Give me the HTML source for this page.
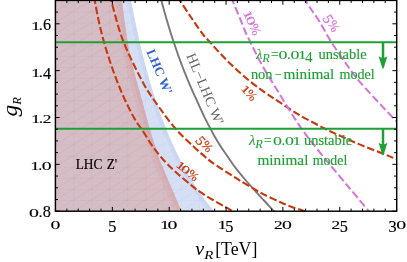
<!DOCTYPE html>
<html><head><meta charset="utf-8"><style>
html,body{margin:0;padding:0;background:#fff;}
svg{display:block;font-family:"Liberation Serif",serif;will-change:transform;}
</style></head><body>
<svg width="407" height="262" viewBox="0 0 407 262">
<defs>
<clipPath id="c"><rect x="55.4" y="0.4" width="341.3" height="210.79999999999998"/></clipPath>
<linearGradient id="pg" gradientUnits="userSpaceOnUse" x1="56" y1="0" x2="185" y2="0">
<stop offset="0" stop-color="#D5BEC7"/><stop offset="1" stop-color="#D6BDC4"/></linearGradient>
<pattern id="mp" patternUnits="userSpaceOnUse" x="55.4" y="0.4" width="17.963" height="11.095">
<path d="M0,0V11.095M0,0H17.963M0,11.095L17.963,0" stroke="#C0504A" stroke-opacity="0.19" stroke-width="0.55" fill="none"/>
</pattern>
<pattern id="mp2" patternUnits="userSpaceOnUse" x="55.4" y="0.4" width="17.963" height="11.095">
<path d="M0,0L17.963,11.095" stroke="#6A78D8" stroke-opacity="0.10" stroke-width="0.55" fill="none"/>
</pattern>
<clipPath id="cpink"><path d="M121.0,-3.0 C121.1,-2.5 120.7,-7.2 121.8,0.0 C122.9,7.2 125.8,30.0 127.4,40.0 C129.0,50.0 130.0,53.3 131.5,60.0 C133.0,66.7 134.7,73.3 136.4,80.0 C138.2,86.7 139.9,92.3 142.0,100.0 C144.1,107.7 146.7,118.0 149.0,126.0 C151.3,134.0 153.6,141.3 155.8,148.0 C158.0,154.7 158.0,155.5 162.3,166.0 C166.6,176.5 178.2,203.1 181.6,211.0 C185.0,218.9 182.4,213.1 182.6,213.5 L50.0,213.5 L50.0,-3.0 Z"/></clipPath>
<clipPath id="cblue"><path d="M130.6,-2.0 C130.9,-0.8 131.6,3.0 132.0,5.4 C132.5,7.9 133.0,10.4 133.5,12.9 C134.0,15.4 134.5,17.9 135.0,20.3 C135.5,22.8 136.0,25.3 136.5,27.8 C137.1,30.3 137.6,32.8 138.1,35.2 C138.7,37.7 139.3,40.2 139.8,42.7 C140.4,45.2 141.0,47.7 141.6,50.1 C142.2,52.6 142.8,55.1 143.4,57.6 C144.1,60.1 144.7,62.6 145.4,65.0 C146.0,67.5 146.7,70.0 147.4,72.5 C148.1,75.0 148.8,77.4 149.5,79.9 C150.2,82.4 150.9,84.9 151.7,87.4 C152.4,89.9 153.2,92.3 154.0,94.8 C154.8,97.3 155.6,99.8 156.4,102.3 C157.2,104.8 158.1,107.2 159.0,109.7 C159.8,112.2 160.7,114.7 161.7,117.2 C162.6,119.7 163.5,122.1 164.5,124.6 C165.5,127.1 166.5,129.6 167.5,132.1 C168.5,134.6 169.6,137.0 170.6,139.5 C171.7,142.0 172.8,144.5 174.0,147.0 C175.1,149.4 176.3,151.9 177.6,154.4 C178.8,156.9 180.0,159.4 181.3,161.9 C182.6,164.3 184.0,166.8 185.4,169.3 C186.7,171.8 188.2,174.3 189.7,176.8 C191.1,179.2 192.7,181.7 194.3,184.2 C195.8,186.7 197.5,189.2 199.2,191.7 C200.9,194.1 202.6,196.6 204.5,199.1 C206.3,201.6 208.2,204.1 210.2,206.6 C212.2,209.0 215.3,212.8 216.3,214.0 L50.0,214.0 L50.0,-2.0 Z"/></clipPath>
<clipPath id="cl"><rect x="50" y="-5" width="82" height="225"/></clipPath>
<pattern id="mb" patternUnits="userSpaceOnUse" x="55.4" y="0.4" width="17.963" height="11.095">
<path d="M0,0V11.095M0,0H17.963M0,11.095L17.963,0" stroke="#6A86E0" stroke-opacity="0.16" stroke-width="0.55" fill="none"/>
</pattern>
</defs>
<rect width="407" height="262" fill="#fff"/>
<g clip-path="url(#c)">
<path d="M130.6,-2.0 C130.9,-0.8 131.6,3.0 132.0,5.4 C132.5,7.9 133.0,10.4 133.5,12.9 C134.0,15.4 134.5,17.9 135.0,20.3 C135.5,22.8 136.0,25.3 136.5,27.8 C137.1,30.3 137.6,32.8 138.1,35.2 C138.7,37.7 139.3,40.2 139.8,42.7 C140.4,45.2 141.0,47.7 141.6,50.1 C142.2,52.6 142.8,55.1 143.4,57.6 C144.1,60.1 144.7,62.6 145.4,65.0 C146.0,67.5 146.7,70.0 147.4,72.5 C148.1,75.0 148.8,77.4 149.5,79.9 C150.2,82.4 150.9,84.9 151.7,87.4 C152.4,89.9 153.2,92.3 154.0,94.8 C154.8,97.3 155.6,99.8 156.4,102.3 C157.2,104.8 158.1,107.2 159.0,109.7 C159.8,112.2 160.7,114.7 161.7,117.2 C162.6,119.7 163.5,122.1 164.5,124.6 C165.5,127.1 166.5,129.6 167.5,132.1 C168.5,134.6 169.6,137.0 170.6,139.5 C171.7,142.0 172.8,144.5 174.0,147.0 C175.1,149.4 176.3,151.9 177.6,154.4 C178.8,156.9 180.0,159.4 181.3,161.9 C182.6,164.3 184.0,166.8 185.4,169.3 C186.7,171.8 188.2,174.3 189.7,176.8 C191.1,179.2 192.7,181.7 194.3,184.2 C195.8,186.7 197.5,189.2 199.2,191.7 C200.9,194.1 202.6,196.6 204.5,199.1 C206.3,201.6 208.2,204.1 210.2,206.6 C212.2,209.0 215.3,212.8 216.3,214.0 L50.0,214.0 L50.0,-2.0 Z" fill="#D6E0F5"/>
<path d="M130.6,-2.0 C130.9,-0.8 131.6,3.0 132.0,5.4 C132.5,7.9 133.0,10.4 133.5,12.9 C134.0,15.4 134.5,17.9 135.0,20.3 C135.5,22.8 136.0,25.3 136.5,27.8 C137.1,30.3 137.6,32.8 138.1,35.2 C138.7,37.7 139.3,40.2 139.8,42.7 C140.4,45.2 141.0,47.7 141.6,50.1 C142.2,52.6 142.8,55.1 143.4,57.6 C144.1,60.1 144.7,62.6 145.4,65.0 C146.0,67.5 146.7,70.0 147.4,72.5 C148.1,75.0 148.8,77.4 149.5,79.9 C150.2,82.4 150.9,84.9 151.7,87.4 C152.4,89.9 153.2,92.3 154.0,94.8 C154.8,97.3 155.6,99.8 156.4,102.3 C157.2,104.8 158.1,107.2 159.0,109.7 C159.8,112.2 160.7,114.7 161.7,117.2 C162.6,119.7 163.5,122.1 164.5,124.6 C165.5,127.1 166.5,129.6 167.5,132.1 C168.5,134.6 169.6,137.0 170.6,139.5 C171.7,142.0 172.8,144.5 174.0,147.0 C175.1,149.4 176.3,151.9 177.6,154.4 C178.8,156.9 180.0,159.4 181.3,161.9 C182.6,164.3 184.0,166.8 185.4,169.3 C186.7,171.8 188.2,174.3 189.7,176.8 C191.1,179.2 192.7,181.7 194.3,184.2 C195.8,186.7 197.5,189.2 199.2,191.7 C200.9,194.1 202.6,196.6 204.5,199.1 C206.3,201.6 208.2,204.1 210.2,206.6 C212.2,209.0 215.3,212.8 216.3,214.0 L50.0,214.0 L50.0,-2.0 Z" fill="url(#mb)"/>
<g clip-path="url(#cblue)"><path d="M130.6,-2.0 C130.9,-0.8 131.6,3.0 132.0,5.4 C132.5,7.9 133.0,10.4 133.5,12.9 C134.0,15.4 134.5,17.9 135.0,20.3 C135.5,22.8 136.0,25.3 136.5,27.8 C137.1,30.3 137.6,32.8 138.1,35.2 C138.7,37.7 139.3,40.2 139.8,42.7 C140.4,45.2 141.0,47.7 141.6,50.1 C142.2,52.6 142.8,55.1 143.4,57.6 C144.1,60.1 144.7,62.6 145.4,65.0 C146.0,67.5 146.7,70.0 147.4,72.5 C148.1,75.0 148.8,77.4 149.5,79.9 C150.2,82.4 150.9,84.9 151.7,87.4 C152.4,89.9 153.2,92.3 154.0,94.8 C154.8,97.3 155.6,99.8 156.4,102.3 C157.2,104.8 158.1,107.2 159.0,109.7 C159.8,112.2 160.7,114.7 161.7,117.2 C162.6,119.7 163.5,122.1 164.5,124.6 C165.5,127.1 166.5,129.6 167.5,132.1 C168.5,134.6 169.6,137.0 170.6,139.5 C171.7,142.0 172.8,144.5 174.0,147.0 C175.1,149.4 176.3,151.9 177.6,154.4 C178.8,156.9 180.0,159.4 181.3,161.9 C182.6,164.3 184.0,166.8 185.4,169.3 C186.7,171.8 188.2,174.3 189.7,176.8 C191.1,179.2 192.7,181.7 194.3,184.2 C195.8,186.7 197.5,189.2 199.2,191.7 C200.9,194.1 202.6,196.6 204.5,199.1 C206.3,201.6 208.2,204.1 210.2,206.6 C212.2,209.0 215.3,212.8 216.3,214.0" fill="none" stroke="#7C96E6" stroke-opacity="0.10" stroke-width="8"/></g>
<path d="M121.0,-3.0 C121.1,-2.5 120.7,-7.2 121.8,0.0 C122.9,7.2 125.8,30.0 127.4,40.0 C129.0,50.0 130.0,53.3 131.5,60.0 C133.0,66.7 134.7,73.3 136.4,80.0 C138.2,86.7 139.9,92.3 142.0,100.0 C144.1,107.7 146.7,118.0 149.0,126.0 C151.3,134.0 153.6,141.3 155.8,148.0 C158.0,154.7 158.0,155.5 162.3,166.0 C166.6,176.5 178.2,203.1 181.6,211.0 C185.0,218.9 182.4,213.1 182.6,213.5 L50.0,213.5 L50.0,-3.0 Z" fill="url(#pg)"/>
<path d="M121.0,-3.0 C121.1,-2.5 120.7,-7.2 121.8,0.0 C122.9,7.2 125.8,30.0 127.4,40.0 C129.0,50.0 130.0,53.3 131.5,60.0 C133.0,66.7 134.7,73.3 136.4,80.0 C138.2,86.7 139.9,92.3 142.0,100.0 C144.1,107.7 146.7,118.0 149.0,126.0 C151.3,134.0 153.6,141.3 155.8,148.0 C158.0,154.7 158.0,155.5 162.3,166.0 C166.6,176.5 178.2,203.1 181.6,211.0 C185.0,218.9 182.4,213.1 182.6,213.5 L50.0,213.5 L50.0,-3.0 Z" fill="url(#mp)"/>
<g clip-path="url(#cl)"><path d="M121.0,-3.0 C121.1,-2.5 120.7,-7.2 121.8,0.0 C122.9,7.2 125.8,30.0 127.4,40.0 C129.0,50.0 130.0,53.3 131.5,60.0 C133.0,66.7 134.7,73.3 136.4,80.0 C138.2,86.7 139.9,92.3 142.0,100.0 C144.1,107.7 146.7,118.0 149.0,126.0 C151.3,134.0 153.6,141.3 155.8,148.0 C158.0,154.7 158.0,155.5 162.3,166.0 C166.6,176.5 178.2,203.1 181.6,211.0 C185.0,218.9 182.4,213.1 182.6,213.5 L50.0,213.5 L50.0,-3.0 Z" fill="url(#mp2)"/></g>
<g clip-path="url(#cpink)"><path d="M121.0,-3.0 C121.1,-2.5 120.7,-7.2 121.8,0.0 C122.9,7.2 125.8,30.0 127.4,40.0 C129.0,50.0 130.0,53.3 131.5,60.0 C133.0,66.7 134.7,73.3 136.4,80.0 C138.2,86.7 139.9,92.3 142.0,100.0 C144.1,107.7 146.7,118.0 149.0,126.0 C151.3,134.0 153.6,141.3 155.8,148.0 C158.0,154.7 158.0,155.5 162.3,166.0 C166.6,176.5 178.2,203.1 181.6,211.0 C185.0,218.9 182.4,213.1 182.6,213.5" fill="none" stroke="#D8766E" stroke-opacity="0.10" stroke-width="14"/><path d="M121.0,-3.0 C121.1,-2.5 120.7,-7.2 121.8,0.0 C122.9,7.2 125.8,30.0 127.4,40.0 C129.0,50.0 130.0,53.3 131.5,60.0 C133.0,66.7 134.7,73.3 136.4,80.0 C138.2,86.7 139.9,92.3 142.0,100.0 C144.1,107.7 146.7,118.0 149.0,126.0 C151.3,134.0 153.6,141.3 155.8,148.0 C158.0,154.7 158.0,155.5 162.3,166.0 C166.6,176.5 178.2,203.1 181.6,211.0 C185.0,218.9 182.4,213.1 182.6,213.5" fill="none" stroke="#D8766E" stroke-opacity="0.10" stroke-width="7"/></g>
<path d="M160.7,-2.0 C161.0,-0.8 162.0,3.0 162.7,5.5 C163.4,8.0 164.1,10.5 164.8,12.9 C165.5,15.4 166.2,17.9 166.9,20.4 C167.7,22.9 168.4,25.4 169.2,27.9 C169.9,30.4 170.7,32.9 171.5,35.4 C172.3,37.9 173.1,40.4 173.9,42.8 C174.8,45.3 175.6,47.8 176.5,50.3 C177.3,52.8 178.2,55.3 179.1,57.8 C180.0,60.3 181.0,62.8 181.9,65.3 C182.8,67.8 183.8,70.2 184.8,72.7 C185.8,75.2 186.8,77.7 187.8,80.2 C188.9,82.7 189.9,85.2 191.0,87.7 C192.1,90.2 193.2,92.7 194.4,95.2 C195.5,97.6 196.6,100.1 197.8,102.6 C198.9,105.1 200.0,107.6 201.2,110.1 C202.3,112.6 203.5,115.1 204.7,117.6 C206.0,120.1 207.2,122.6 208.5,125.1 C209.8,127.5 211.1,130.0 212.5,132.5 C213.8,135.0 214.9,137.1 216.7,140.0 C218.5,142.9 220.9,146.8 223.1,150.0 C225.3,153.2 227.4,156.3 229.6,159.5 C231.8,162.7 233.8,165.7 236.5,169.1 C239.2,172.5 242.4,176.4 245.5,180.0 C248.6,183.6 251.8,187.2 255.0,190.7 C258.2,194.2 261.3,197.6 264.5,201.0 C267.7,204.4 271.9,209.0 274.0,211.2 C276.1,213.4 276.3,213.7 276.8,214.2" fill="none" stroke="#787878" stroke-width="1.9"/>
<g fill="none" stroke="#C6380E" stroke-width="2.1" stroke-dasharray="7.4 2.9">
<path d="M93.3,-3.0 C93.5,-2.5 93.7,-3.8 94.6,0.0 C95.5,3.8 97.0,13.3 98.5,20.0 C100.0,26.7 101.6,33.3 103.4,40.0 C105.2,46.7 107.3,53.3 109.5,60.0 C111.7,66.7 114.0,73.3 116.6,80.0 C119.2,86.7 121.9,93.3 125.0,100.0 C128.1,106.7 132.5,115.1 135.3,120.0 C138.1,124.9 139.1,125.2 142.0,129.6 C144.9,134.0 148.9,141.1 152.7,146.4 C156.5,151.7 160.7,156.9 164.7,161.3 C168.7,165.7 172.4,169.0 176.8,173.0 C181.2,177.0 187.5,182.2 191.4,185.4 C195.3,188.6 196.8,189.8 200.4,192.2 C204.0,194.6 208.7,197.5 213.0,200.0 C217.3,202.5 222.8,205.5 226.0,207.3 C229.2,209.1 230.6,210.0 232.3,211.0 C234.0,212.0 235.4,212.8 236.0,213.2"/>
<path d="M110.0,-3.0 C110.2,-2.5 108.9,-7.2 111.0,0.0 C113.1,7.2 117.7,26.7 122.8,40.0 C127.9,53.3 136.4,70.0 141.6,80.0 C146.8,90.0 148.5,92.1 154.0,100.0 C159.5,107.9 167.9,119.8 174.5,127.5 C181.1,135.2 188.4,141.6 193.5,146.5 C198.6,151.4 201.8,153.9 205.0,156.7 C208.2,159.5 208.9,160.3 213.0,163.2 C217.1,166.1 225.3,171.3 229.8,174.2 C234.3,177.1 236.0,178.2 240.2,180.8 C244.4,183.4 250.8,187.1 255.0,189.5 C259.2,191.9 261.2,193.1 265.4,195.2 C269.6,197.3 275.8,200.1 280.0,202.0 C284.2,203.9 286.6,205.0 290.6,206.5 C294.7,208.0 301.1,210.0 304.3,211.2 C307.5,212.3 309.1,213.0 310.0,213.4"/>
<path d="M177.0,-3.0 C177.4,-2.5 177.1,-3.5 179.5,0.0 C181.9,3.5 187.6,12.2 191.5,18.0 C195.4,23.8 199.8,30.4 203.0,34.5 C206.2,38.6 207.5,39.3 210.4,42.5 C213.3,45.7 216.6,49.7 220.6,53.9 C224.6,58.1 229.5,63.0 234.4,67.6 C239.3,72.2 244.8,77.1 250.0,81.3 C255.2,85.5 260.2,89.1 265.3,92.7 C270.4,96.3 274.6,98.9 280.3,102.7 C286.1,106.5 293.2,111.4 299.8,115.3 C306.4,119.2 314.9,123.4 320.0,126.1 C325.1,128.8 324.3,128.5 330.2,131.3 C336.1,134.1 347.0,139.1 355.4,142.7 C363.8,146.3 373.8,150.0 380.6,152.7 C387.4,155.4 392.8,157.7 396.0,159.0 C399.2,160.3 399.3,160.2 400.0,160.5"/>
</g>
<g fill="none" stroke="#D672DC" stroke-width="2" stroke-dasharray="7.8 3.2">
<path d="M231.0,-3.0 C231.2,-2.5 231.0,-3.2 232.3,0.0 C233.6,3.2 236.9,11.0 239.0,16.0 C241.1,21.0 242.7,25.6 244.6,30.0 C246.5,34.4 248.3,38.0 250.4,42.2 C252.5,46.5 254.7,51.0 257.0,55.5 C259.4,60.0 261.8,64.8 264.5,69.5 C267.2,74.2 270.3,79.1 273.0,83.5 C275.7,87.9 278.0,91.5 280.8,96.0 C283.6,100.5 287.3,106.8 289.8,110.8 C292.3,114.8 293.6,116.8 295.6,119.8 C297.6,122.8 299.8,126.3 301.8,129.1 C303.8,131.9 305.5,134.2 307.5,136.8 C309.5,139.4 310.8,140.9 313.6,144.4 C316.4,147.9 321.3,154.2 324.1,157.7 C326.9,161.2 326.4,160.3 330.5,165.3 C334.6,170.3 342.8,180.1 349.0,187.5 C355.2,194.9 364.2,205.6 367.7,209.8 C371.2,214.0 369.6,212.1 370.0,212.5"/>
<path d="M303.6,-3.0 C303.9,-2.5 304.0,-2.1 305.3,0.0 C306.6,2.1 309.1,6.2 311.2,9.5 C313.3,12.8 314.8,14.1 318.2,19.5 C321.6,24.9 326.5,34.4 331.3,42.0 C336.1,49.6 342.4,58.5 347.0,65.0 C351.6,71.5 353.2,74.2 359.2,81.2 C365.2,88.2 376.8,100.5 383.0,107.2 C389.2,113.9 393.7,118.4 396.5,121.4 C399.3,124.4 399.4,124.7 400.0,125.3"/>
</g>
<g stroke="#1FA035" stroke-width="2.1" fill="none">
<path d="M50,42.3H400M50,128.8H400"/>
</g>
<g stroke="#1FA035" stroke-width="2.5" fill="none">
<path d="M383,42.3V60M383,128.8V147"/>
</g>
<path d="M378.6,56.2L382.2,67.8Q383,69.6 383.8,67.8L387.4,56.2Q383,59.4 378.6,56.2Z" fill="#1FA035"/>
<path d="M378.6,142.8L382.2,154.4Q383,156.2 383.8,154.4L387.4,142.8Q383,146 378.6,142.8Z" fill="#1FA035"/>
</g>
<text x="255.90" y="59.30" font-size="14.20" font-style="italic" fill="#1FA035" textLength="6.6" lengthAdjust="spacingAndGlyphs">λ</text><text x="262.30" y="62.20" font-size="11.8" font-style="italic" fill="#1FA035" textLength="7.6" lengthAdjust="spacingAndGlyphs">R</text><text x="271.00" y="59.30" font-size="14.60" textLength="7.70" lengthAdjust="spacingAndGlyphs" fill="#1FA035" stroke="#1FA035" stroke-width="0.15">=</text><text transform="translate(282.88,59.30) scale(1.280,0.830)" text-anchor="middle" font-size="13.95" fill="#1FA035" stroke="#1FA035" stroke-width="0.10">0</text><text transform="translate(288.93,59.30) scale(1.050,1.000)" text-anchor="middle" font-size="13.95" fill="#1FA035" stroke="#1FA035" stroke-width="0.10">.</text><text transform="translate(294.98,59.30) scale(1.280,0.830)" text-anchor="middle" font-size="13.95" fill="#1FA035" stroke="#1FA035" stroke-width="0.10">0</text><text transform="translate(302.14,59.30) scale(1.220,0.830)" text-anchor="middle" font-size="13.95" fill="#1FA035" stroke="#1FA035" stroke-width="0.10">1</text><text transform="translate(308.97,61.53) scale(1.050,1.050)" text-anchor="middle" font-size="13.95" fill="#1FA035" stroke="#1FA035" stroke-width="0.10">4</text><text x="318.40" y="59.30" font-size="14.60" textLength="48.30" lengthAdjust="spacingAndGlyphs" fill="#1FA035" stroke="#1FA035" stroke-width="0.15">unstable</text><text x="250.90" y="78.80" font-size="14.60" textLength="21.70" lengthAdjust="spacingAndGlyphs" fill="#1FA035" stroke="#1FA035" stroke-width="0.15">non</text><text x="274.60" y="78.80" font-size="14.60" textLength="7.10" lengthAdjust="spacingAndGlyphs" fill="#1FA035" stroke="#1FA035" stroke-width="0.15">−</text><text x="283.40" y="78.80" font-size="14.60" textLength="50.90" lengthAdjust="spacingAndGlyphs" fill="#1FA035" stroke="#1FA035" stroke-width="0.15">minimal</text><text x="339.50" y="78.80" font-size="14.60" textLength="35.30" lengthAdjust="spacingAndGlyphs" fill="#1FA035" stroke="#1FA035" stroke-width="0.15">model</text><text x="248.90" y="145.30" font-size="14.20" font-style="italic" fill="#1FA035" textLength="6.6" lengthAdjust="spacingAndGlyphs">λ</text><text x="255.30" y="148.20" font-size="11.8" font-style="italic" fill="#1FA035" textLength="7.6" lengthAdjust="spacingAndGlyphs">R</text><text x="264.00" y="145.30" font-size="14.60" textLength="7.70" lengthAdjust="spacingAndGlyphs" fill="#1FA035" stroke="#1FA035" stroke-width="0.15">=</text><text transform="translate(277.38,145.30) scale(1.280,0.830)" text-anchor="middle" font-size="13.95" fill="#1FA035" stroke="#1FA035" stroke-width="0.10">0</text><text transform="translate(283.43,145.30) scale(1.050,1.000)" text-anchor="middle" font-size="13.95" fill="#1FA035" stroke="#1FA035" stroke-width="0.10">.</text><text transform="translate(289.48,145.30) scale(1.280,0.830)" text-anchor="middle" font-size="13.95" fill="#1FA035" stroke="#1FA035" stroke-width="0.10">0</text><text transform="translate(296.64,145.30) scale(1.220,0.830)" text-anchor="middle" font-size="13.95" fill="#1FA035" stroke="#1FA035" stroke-width="0.10">1</text><text x="303.90" y="145.30" font-size="14.60" textLength="48.30" lengthAdjust="spacingAndGlyphs" fill="#1FA035" stroke="#1FA035" stroke-width="0.15">unstable</text><text x="257.50" y="164.80" font-size="14.60" textLength="50.90" lengthAdjust="spacingAndGlyphs" fill="#1FA035" stroke="#1FA035" stroke-width="0.15">minimal</text><text x="312.70" y="164.80" font-size="14.60" textLength="34.60" lengthAdjust="spacingAndGlyphs" fill="#1FA035" stroke="#1FA035" stroke-width="0.15">model</text><text x="75.70" y="168.70" font-size="14.40" textLength="26.70" lengthAdjust="spacingAndGlyphs" fill="#000" stroke="#000" stroke-width="0.15">LHC</text><text x="106.70" y="168.70" font-size="14.40" textLength="10.50" lengthAdjust="spacingAndGlyphs" fill="#000" stroke="#000" stroke-width="0.15">Z'</text>
<text transform="translate(146.3,51.5) rotate(67)" font-size="13" font-weight="bold" fill="#2F62CC">LHC W'</text>
<text transform="translate(186.3,55.5) rotate(67.5)" font-size="14" textLength="76" lengthAdjust="spacingAndGlyphs" fill="#666">HL−LHC W'</text>
<g transform="translate(176.20,166.50) rotate(40.0)"><text transform="translate(2.75,0.00) scale(1.220,0.830)" text-anchor="middle" font-size="13.33" fill="#C6380E" stroke="#C6380E" stroke-width="0.25">1</text><text transform="translate(9.37,0.00) scale(1.280,0.830)" text-anchor="middle" font-size="13.33" fill="#C6380E" stroke="#C6380E" stroke-width="0.25">0</text><text x="13.44" y="0" font-size="12.56" fill="#C6380E" stroke="#C6380E" stroke-width="0.2">%</text></g><g transform="translate(196.30,139.80) rotate(50.0)"><text transform="translate(3.35,2.06) scale(1.050,1.050)" text-anchor="middle" font-size="13.33" fill="#C6380E" stroke="#C6380E" stroke-width="0.25">5</text><text x="6.91" y="0" font-size="12.56" fill="#C6380E" stroke="#C6380E" stroke-width="0.2">%</text></g><g transform="translate(241.00,89.80) rotate(48.0)"><text transform="translate(2.75,0.00) scale(1.220,0.830)" text-anchor="middle" font-size="13.33" fill="#C6380E" stroke="#C6380E" stroke-width="0.25">1</text><text x="5.70" y="0" font-size="12.56" fill="#C6380E" stroke="#C6380E" stroke-width="0.2">%</text></g><g transform="translate(243.40,13.40) rotate(66.0)"><text transform="translate(2.88,0.00) scale(1.220,0.830)" text-anchor="middle" font-size="13.95" fill="#D672DC" stroke="#D672DC" stroke-width="0.25">1</text><text transform="translate(9.81,0.00) scale(1.280,0.830)" text-anchor="middle" font-size="13.95" fill="#D672DC" stroke="#D672DC" stroke-width="0.25">0</text><text x="14.06" y="0" font-size="13.14" fill="#D672DC" stroke="#D672DC" stroke-width="0.2">%</text></g><g transform="translate(324.00,17.00) rotate(62.0)"><text transform="translate(3.51,2.16) scale(1.050,1.050)" text-anchor="middle" font-size="13.95" fill="#D672DC" stroke="#D672DC" stroke-width="0.25">5</text><text x="7.22" y="0" font-size="13.14" fill="#D672DC" stroke="#D672DC" stroke-width="0.2">%</text></g>
<path d="M55.50,211.2v-4.3M55.50,0.4v4.3M66.87,211.2v-2.6M66.87,0.4v2.6M78.24,211.2v-2.6M78.24,0.4v2.6M89.61,211.2v-2.6M89.61,0.4v2.6M100.98,211.2v-2.6M100.98,0.4v2.6M112.35,211.2v-4.3M112.35,0.4v4.3M123.72,211.2v-2.6M123.72,0.4v2.6M135.09,211.2v-2.6M135.09,0.4v2.6M146.46,211.2v-2.6M146.46,0.4v2.6M157.83,211.2v-2.6M157.83,0.4v2.6M169.20,211.2v-4.3M169.20,0.4v4.3M180.57,211.2v-2.6M180.57,0.4v2.6M191.94,211.2v-2.6M191.94,0.4v2.6M203.31,211.2v-2.6M203.31,0.4v2.6M214.68,211.2v-2.6M214.68,0.4v2.6M226.05,211.2v-4.3M226.05,0.4v4.3M237.42,211.2v-2.6M237.42,0.4v2.6M248.79,211.2v-2.6M248.79,0.4v2.6M260.16,211.2v-2.6M260.16,0.4v2.6M271.53,211.2v-2.6M271.53,0.4v2.6M282.90,211.2v-4.3M282.90,0.4v4.3M294.27,211.2v-2.6M294.27,0.4v2.6M305.64,211.2v-2.6M305.64,0.4v2.6M317.01,211.2v-2.6M317.01,0.4v2.6M328.38,211.2v-2.6M328.38,0.4v2.6M339.75,211.2v-4.3M339.75,0.4v4.3M351.12,211.2v-2.6M351.12,0.4v2.6M362.49,211.2v-2.6M362.49,0.4v2.6M373.86,211.2v-2.6M373.86,0.4v2.6M385.23,211.2v-2.6M385.23,0.4v2.6M396.60,211.2v-4.3M396.60,0.4v4.3M55.4,211.20h4.3M396.7,211.20h-4.3M55.4,199.49h2.6M396.7,199.49h-2.6M55.4,187.78h2.6M396.7,187.78h-2.6M55.4,176.06h2.6M396.7,176.06h-2.6M55.4,164.35h4.3M396.7,164.35h-4.3M55.4,152.64h2.6M396.7,152.64h-2.6M55.4,140.93h2.6M396.7,140.93h-2.6M55.4,129.21h2.6M396.7,129.21h-2.6M55.4,117.50h4.3M396.7,117.50h-4.3M55.4,105.79h2.6M396.7,105.79h-2.6M55.4,94.08h2.6M396.7,94.08h-2.6M55.4,82.36h2.6M396.7,82.36h-2.6M55.4,70.65h4.3M396.7,70.65h-4.3M55.4,58.94h2.6M396.7,58.94h-2.6M55.4,47.23h2.6M396.7,47.23h-2.6M55.4,35.51h2.6M396.7,35.51h-2.6M55.4,23.80h4.3M396.7,23.80h-4.3M55.4,12.09h2.6M396.7,12.09h-2.6M55.4,0.37h2.6M396.7,0.37h-2.6" stroke="#000" stroke-width="1" fill="none"/>
<rect x="55.4" y="0.4" width="341.3" height="210.79999999999998" fill="none" stroke="#000" stroke-width="1.45"/>
<text transform="translate(55.50,229.40) scale(1.280,0.830)" text-anchor="middle" font-size="15.50" fill="#000" stroke="#000" stroke-width="0.15">0</text><text transform="translate(112.35,231.80) scale(1.050,1.050)" text-anchor="middle" font-size="15.50" fill="#000" stroke="#000" stroke-width="0.15">5</text><text transform="translate(164.70,229.40) scale(1.220,0.830)" text-anchor="middle" font-size="15.50" fill="#000" stroke="#000" stroke-width="0.15">1</text><text transform="translate(172.40,229.40) scale(1.280,0.830)" text-anchor="middle" font-size="15.50" fill="#000" stroke="#000" stroke-width="0.15">0</text><text transform="translate(222.15,229.40) scale(1.220,0.830)" text-anchor="middle" font-size="15.50" fill="#000" stroke="#000" stroke-width="0.15">1</text><text transform="translate(229.25,231.80) scale(1.050,1.050)" text-anchor="middle" font-size="15.50" fill="#000" stroke="#000" stroke-width="0.15">5</text><text transform="translate(278.40,229.40) scale(1.120,0.830)" text-anchor="middle" font-size="15.50" fill="#000" stroke="#000" stroke-width="0.15">2</text><text transform="translate(287.00,229.40) scale(1.280,0.830)" text-anchor="middle" font-size="15.50" fill="#000" stroke="#000" stroke-width="0.15">0</text><text transform="translate(335.85,229.40) scale(1.120,0.830)" text-anchor="middle" font-size="15.50" fill="#000" stroke="#000" stroke-width="0.15">2</text><text transform="translate(343.85,231.80) scale(1.050,1.050)" text-anchor="middle" font-size="15.50" fill="#000" stroke="#000" stroke-width="0.15">5</text><text transform="translate(392.60,231.80) scale(1.050,1.050)" text-anchor="middle" font-size="15.50" fill="#000" stroke="#000" stroke-width="0.15">3</text><text transform="translate(401.15,229.40) scale(1.280,0.830)" text-anchor="middle" font-size="15.50" fill="#000" stroke="#000" stroke-width="0.15">0</text><text transform="translate(34.00,217.10) scale(1.280,0.830)" text-anchor="middle" font-size="15.50" fill="#000" stroke="#000" stroke-width="0.15">0</text><text transform="translate(40.50,217.10) scale(1.050,1.000)" text-anchor="middle" font-size="15.50" fill="#000" stroke="#000" stroke-width="0.15">.</text><text transform="translate(46.85,217.10) scale(1.050,1.020)" text-anchor="middle" font-size="15.50" fill="#000" stroke="#000" stroke-width="0.15">8</text><text transform="translate(35.00,170.25) scale(1.220,0.830)" text-anchor="middle" font-size="15.50" fill="#000" stroke="#000" stroke-width="0.15">1</text><text transform="translate(40.20,170.25) scale(1.050,1.000)" text-anchor="middle" font-size="15.50" fill="#000" stroke="#000" stroke-width="0.15">.</text><text transform="translate(46.70,170.25) scale(1.280,0.830)" text-anchor="middle" font-size="15.50" fill="#000" stroke="#000" stroke-width="0.15">0</text><text transform="translate(35.80,123.40) scale(1.220,0.830)" text-anchor="middle" font-size="15.50" fill="#000" stroke="#000" stroke-width="0.15">1</text><text transform="translate(41.00,123.40) scale(1.050,1.000)" text-anchor="middle" font-size="15.50" fill="#000" stroke="#000" stroke-width="0.15">.</text><text transform="translate(47.10,123.40) scale(1.120,0.830)" text-anchor="middle" font-size="15.50" fill="#000" stroke="#000" stroke-width="0.15">2</text><text transform="translate(35.70,76.55) scale(1.220,0.830)" text-anchor="middle" font-size="15.50" fill="#000" stroke="#000" stroke-width="0.15">1</text><text transform="translate(40.90,76.55) scale(1.050,1.000)" text-anchor="middle" font-size="15.50" fill="#000" stroke="#000" stroke-width="0.15">.</text><text transform="translate(47.05,78.95) scale(1.050,1.050)" text-anchor="middle" font-size="15.50" fill="#000" stroke="#000" stroke-width="0.15">4</text><text transform="translate(35.70,29.70) scale(1.220,0.830)" text-anchor="middle" font-size="15.50" fill="#000" stroke="#000" stroke-width="0.15">1</text><text transform="translate(40.90,29.70) scale(1.050,1.000)" text-anchor="middle" font-size="15.50" fill="#000" stroke="#000" stroke-width="0.15">.</text><text transform="translate(47.05,29.70) scale(1.050,1.020)" text-anchor="middle" font-size="15.50" fill="#000" stroke="#000" stroke-width="0.15">6</text>
<text transform="translate(16.9,116.6) rotate(-90)" font-size="21.2" font-style="italic" textLength="11.8" lengthAdjust="spacingAndGlyphs">g</text>
<text transform="translate(20.8,104.8) rotate(-90)" font-size="12.4" font-style="italic" textLength="7.6" lengthAdjust="spacingAndGlyphs">R</text>
<text x="195.2" y="255.2" font-size="18" font-style="italic" textLength="8.9" lengthAdjust="spacingAndGlyphs">v</text>
<text x="204.2" y="258.9" font-size="12.2" font-style="italic" textLength="9.1" lengthAdjust="spacingAndGlyphs">R</text>
<text x="215.2" y="255.1" font-size="17.8" textLength="42.2" lengthAdjust="spacingAndGlyphs">[TeV]</text>
</svg>
</body></html>
